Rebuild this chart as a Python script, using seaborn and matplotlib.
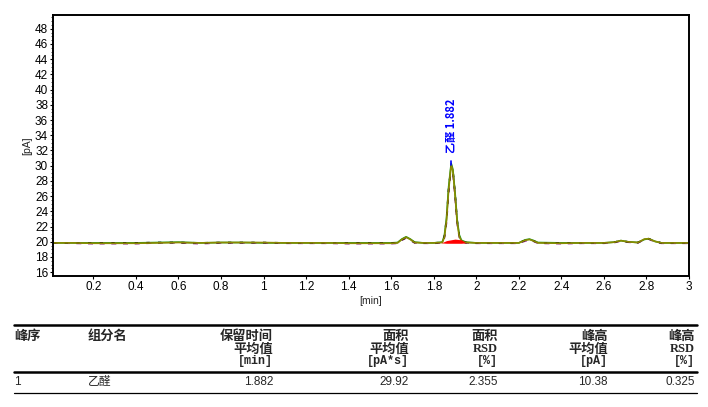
import numpy as np
import pandas as pd
import matplotlib
matplotlib.use("Agg")
import matplotlib.pyplot as plt
import seaborn as sns

# retention time grid [min]
times = [0.01, 0.10, 0.20, 0.30, 0.40, 0.50, 0.60, 0.70, 0.80, 0.90, 1.00,
         1.10, 1.20, 1.30, 1.40, 1.50, 1.60, 1.63, 1.65, 1.67, 1.69, 1.71,
         1.75, 1.80, 1.84, 1.85, 1.86, 1.87, 1.882, 1.89, 1.90, 1.91, 1.92,
         1.93, 1.95, 2.00, 2.10, 2.20, 2.23, 2.25, 2.27, 2.29, 2.40, 2.50,
         2.60, 2.65, 2.68, 2.71, 2.76, 2.79, 2.81, 2.84, 2.87, 3.00]

# replicate signals [pA]
run_olive = [19.85, 19.85, 19.80, 19.80, 19.80, 19.85, 19.90, 19.85, 19.90, 19.90, 19.90,
             19.85, 19.85, 19.85, 19.80, 19.80, 19.80, 19.85, 20.30, 20.60, 20.30, 19.90,
             19.85, 19.85, 19.90, 20.60, 22.80, 26.80, 30.10, 29.30, 26.20, 22.60, 20.70,
             20.10, 19.90, 19.85, 19.85, 19.85, 20.20, 20.30, 20.10, 19.85, 19.80, 19.85,
             19.85, 19.95, 20.15, 20.00, 19.90, 20.35, 20.40, 20.05, 19.85, 19.85]
run_green = [19.85, 19.85, 19.85, 19.85, 19.85, 19.90, 19.95, 19.85, 19.90, 19.90, 19.85,
             19.85, 19.85, 19.85, 19.85, 19.85, 19.85, 19.90, 20.35, 20.65, 20.35, 19.95,
             19.85, 19.85, 19.95, 20.80, 23.10, 27.20, 30.30, 29.50, 26.50, 22.90, 20.90,
             20.20, 19.95, 19.85, 19.85, 19.85, 20.25, 20.35, 20.15, 19.90, 19.85, 19.85,
             19.85, 19.95, 20.15, 20.00, 19.90, 20.30, 20.40, 20.05, 19.85, 19.85]
run_purple = [19.85, 19.80, 19.75, 19.75, 19.75, 19.85, 19.85, 19.75, 19.85, 19.85, 19.85,
              19.80, 19.80, 19.80, 19.75, 19.75, 19.75, 19.80, 20.20, 20.50, 20.20, 19.85,
              19.80, 19.80, 19.85, 20.50, 22.50, 26.40, 29.90, 29.10, 26.00, 22.40, 20.60,
              20.05, 19.85, 19.80, 19.80, 19.80, 20.10, 20.25, 20.05, 19.80, 19.75, 19.80,
              19.80, 19.90, 20.10, 19.95, 19.85, 20.30, 20.35, 20.00, 19.80, 19.80]
run_black = [19.85, 19.85, 19.85, 19.85, 19.85, 19.90, 19.90, 19.85, 19.90, 19.90, 19.90,
             19.85, 19.85, 19.85, 19.85, 19.85, 19.85, 19.85, 20.25, 20.55, 20.25, 19.90,
             19.85, 19.85, 19.90, 20.70, 23.00, 27.00, 30.00, 29.40, 26.40, 22.80, 20.80,
             20.15, 19.90, 19.85, 19.85, 19.85, 20.20, 20.30, 20.10, 19.85, 19.85, 19.85,
             19.85, 19.95, 20.15, 20.00, 19.90, 20.35, 20.40, 20.05, 19.85, 19.85]

# integrated area band under the main peak
area_t = [1.835, 1.86, 1.90, 1.93, 1.95]
area_top = [19.85, 20.15, 20.35, 20.25, 19.85]
area_base = [19.85, 19.80, 19.80, 19.80, 19.85]

peak_name = "乙醛"
peak_rt = 1.882
peak_height = 30.1

xticks = [0.2, 0.4, 0.6, 0.8, 1, 1.2, 1.4, 1.6, 1.8, 2, 2.2, 2.4, 2.6, 2.8, 3]
xtick_labels = ["0.2", "0.4", "0.6", "0.8", "1", "1.2", "1.4", "1.6", "1.8", "2",
                "2.2", "2.4", "2.6", "2.8", "3"]
yticks = list(range(16, 50, 2))

# result table
col_heads = [["峰序"], ["组分名"], ["保留时间", "平均值", "[min]"],
             ["面积", "平均值", "[pA*s]"], ["面积", "RSD", "[%]"],
             ["峰高", "平均值", "[pA]"], ["峰高", "RSD", "[%]"]]
row_values = ["1", "乙醛", "1.882", "29.92", "2.355", "10.38", "0.325"]

sns.set_style("ticks")
plt.rcParams['font.family'] = ['Liberation Sans', 'Noto Sans CJK SC']
cjk = ['Noto Sans CJK SC', 'DejaVu Sans']

W, H = 708, 407
fig = plt.figure(figsize=(W / 100, H / 100), dpi=100)
ax = fig.add_axes([53 / W, 1 - 276 / H, (689 - 53) / W, (276 - 15) / H])

df = pd.DataFrame({
    "t": times * 4,
    "pA": run_green + run_purple + run_black + run_olive,
    "run": ["g"] * len(times) + ["p"] * len(times) + ["k"] * len(times) + ["o"] * len(times),
})
palette = {"g": "#1a9a1a", "p": "#8b1a8b", "k": "#000000", "o": "#8a8a00"}
dashes = {"g": "", "p": (3, 4), "k": (2, 5), "o": ""}
sns.lineplot(data=df, x="t", y="pA", hue="run", style="run", palette=palette,
             dashes=dashes, hue_order=["g", "p", "k", "o"], style_order=["g", "p", "k", "o"],
             linewidth=1.2, legend=False, ax=ax, sort=False, estimator=None)

ax.fill_between(area_t, area_base, area_top, color="red", lw=0, zorder=5)
ax.plot([peak_rt, peak_rt], [peak_height, peak_height + 0.5], color="blue", lw=1.2)
ax.text(peak_rt, peak_height + 1.6, f"{peak_name} 1.882", rotation=90, ha="center",
        va="bottom", color="blue", fontsize=8, fontweight="bold", family=cjk)

ax.set_xlim(0.01, 3)
ax.set_ylim(15.5, 49.8)
ax.set_xticks(xticks)
ax.set_xticklabels(xtick_labels)
ax.set_yticks(yticks)
ax.set_yticks(np.arange(16, 50, 0.5), minor=True)
ax.tick_params(axis="both", labelsize=8.5, colors="black", length=2, width=0.8, pad=1.5)
ax.tick_params(axis="y", which="minor", length=1.5, width=0.6)
ax.set_xlabel("[min]", fontsize=7.5, labelpad=2)
ax.set_ylabel("[pA]", fontsize=7.5, labelpad=2)
for sp in ax.spines.values():
    sp.set_linewidth(1.4)
    sp.set_color("black")


def fx(x):
    return x / W


def fy(y):
    return 1 - y / H


# table rules
fig.add_artist(plt.Line2D([fx(14), fx(697)], [fy(325), fy(325)], color="black", lw=1.8))
fig.add_artist(plt.Line2D([fx(14), fx(697)], [fy(372), fy(372)], color="black", lw=1.8))
fig.add_artist(plt.Line2D([fx(14), fx(697)], [fy(393), fy(393)], color="black", lw=0.9))

col_x = [14, 88, 273, 409, 498, 608, 695]
col_ha = ["left", "left", "right", "right", "right", "right", "right"]
line_y = [336, 349, 361]
for x, ha, heads in zip(col_x, col_ha, col_heads):
    for i, s in enumerate(heads):
        if s.startswith("["):
            fam = ['Liberation Mono', 'DejaVu Sans Mono']
            size = 8.5
        elif s == "RSD":
            fam = ['Liberation Serif', 'DejaVu Serif']
            size = 9
        else:
            fam = cjk
            size = 9.5
        fig.text(fx(x), fy(line_y[i]), s, ha=ha, va="center", fontsize=size,
                 fontweight="bold", family=fam)

for x, ha, s in zip(col_x, col_ha, row_values):
    fig.text(fx(x), fy(382), s, ha=ha, va="center", fontsize=8.5,
             family=['Liberation Sans', 'Noto Sans CJK SC'])

fig.savefig("out.png", dpi=100)
